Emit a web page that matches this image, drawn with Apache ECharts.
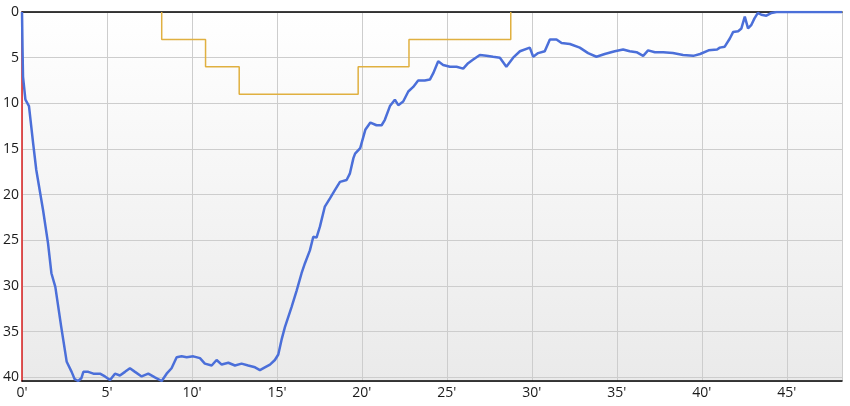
<!DOCTYPE html>
<html>
<head>
<meta charset="utf-8">
<script src="https://cdn.jsdelivr.net/npm/echarts@6/dist/echarts.min.js"></script>
<style>html,body{margin:0;padding:0;background:#fff}#c{width:850px;height:406px}</style>
</head>
<body>
<div id="c"></div>
<script>
// Dive profile: time (minutes) and depth (m)
const profileTime = [0,0.03,0.06,0.2,0.41,0.65,0.84,1.24,1.53,1.73,1.96,2.31,2.63,2.92,3.1,3.3,3.49,3.61,3.9,4.2,4.59,4.88,5.18,5.47,5.76,6.06,6.35,6.65,7.04,7.43,7.82,8.22,8.51,8.8,9.1,9.39,9.69,10.08,10.47,10.76,11.16,11.45,11.75,12.14,12.53,12.92,13.31,13.71,14.0,14.29,14.59,14.88,15.08,15.27,15.47,15.86,16.16,16.45,16.65,16.94,17.14,17.33,17.53,17.82,18.12,18.41,18.71,19.1,19.29,19.5,19.6,19.9,20.2,20.5,20.86,21.16,21.35,21.65,21.94,22.14,22.43,22.73,23.02,23.31,23.7,24.0,24.2,24.49,24.78,25.18,25.57,25.96,26.25,26.55,26.94,27.33,27.72,28.12,28.5,28.9,29.3,29.88,30.08,30.37,30.76,31.06,31.45,31.75,32.24,32.82,33.31,33.8,34.29,34.88,35.37,35.76,36.16,36.55,36.84,37.24,37.73,38.3,38.9,39.5,39.9,40.4,40.9,41.06,41.35,41.65,41.84,42.14,42.33,42.53,42.72,42.92,43.1,43.3,43.5,43.8,44.1,44.4,48.25];
const profileDepth = [0,4,7.1,9.6,10.3,14.3,17.3,21.7,25.3,28.6,30.1,34.5,38.3,39.4,40.2,40.4,40.1,39.4,39.4,39.6,39.6,39.9,40.3,39.6,39.8,39.4,39.0,39.4,39.9,39.6,40.0,40.4,39.6,39.0,37.8,37.7,37.8,37.7,37.9,38.5,38.7,38.1,38.6,38.4,38.7,38.5,38.7,38.9,39.2,38.9,38.6,38.1,37.5,35.9,34.5,32.3,30.5,28.6,27.5,26.1,24.6,24.7,23.5,21.3,20.4,19.5,18.6,18.4,17.7,16.0,15.5,14.9,12.9,12.1,12.4,12.4,11.8,10.3,9.6,10.2,9.8,8.7,8.2,7.5,7.5,7.4,6.7,5.4,5.8,6.0,6.0,6.2,5.6,5.2,4.7,4.8,4.9,5.0,6.0,5.0,4.3,3.9,4.9,4.5,4.3,3.0,3.0,3.4,3.5,3.9,4.5,4.9,4.6,4.3,4.1,4.3,4.4,4.8,4.2,4.4,4.4,4.5,4.7,4.8,4.6,4.2,4.1,3.9,3.8,2.9,2.2,2.1,1.8,0.5,1.8,1.4,0.7,0.1,0.3,0.4,0.1,0,0];
// Decompression ceiling (step line)
const ceilingTime = [8.22,8.22,10.8,10.8,12.78,12.78,19.78,19.78,22.77,22.77,28.76,28.76];
const ceilingDepth = [0,3,3,6,6,9,9,6,6,3,3,0];
const timeMax = 48.25;
const depthMax = 40.4;

const zip = (a,b) => a.map((v,i)=>[v,b[i]]);
const chart = echarts.init(document.getElementById('c'), null, {renderer:'canvas'});
const labelFont = {fontFamily:'"Open Sans", "Noto Sans", sans-serif', fontSize:14, color:'#1a1a1a'};
chart.setOption({
  animation:false,
  grid:{left:22,right:8,top:12,bottom:25,show:true,borderWidth:0,
    backgroundColor:new echarts.graphic.LinearGradient(0,0,0,1,[{offset:0,color:'#ffffff'},{offset:1,color:'#eaeaea'}])},
  xAxis:[{
    type:'value',min:0,max:timeMax,interval:5,position:'bottom',
    axisLine:{show:true,onZero:false,lineStyle:{color:'#000',width:1.5}},
    axisTick:{show:false},
    axisLabel:Object.assign({margin:5,showMaxLabel:false,formatter:v=>v+"'"},labelFont),
    splitLine:{show:true,lineStyle:{color:'#cdcdcd',width:1}}
  },{
    type:'value',min:0,max:timeMax,position:'top',
    axisLine:{show:true,onZero:false,lineStyle:{color:'#000',width:1.5}},
    axisTick:{show:false},axisLabel:{show:false},splitLine:{show:false}
  }],
  yAxis:{
    type:'value',inverse:true,min:0,max:depthMax,interval:5,
    axisLine:{show:true,onZero:false,lineStyle:{color:'#d91e1e',width:1.5}},
    axisTick:{show:false},
    axisLabel:Object.assign({margin:3,showMaxLabel:false},labelFont),
    splitLine:{show:true,lineStyle:{color:'#cdcdcd',width:1}}
  },
  series:[{
    type:'line',data:zip(ceilingTime,ceilingDepth),showSymbol:false,symbol:'none',
    lineStyle:{color:'#e0b040',width:1.5},z:3
  },{
    type:'line',data:zip(profileTime,profileDepth),showSymbol:false,symbol:'none',
    lineStyle:{color:'#4b6fd9',width:2.5},z:4
  }]
});
</script>
</body>
</html>
